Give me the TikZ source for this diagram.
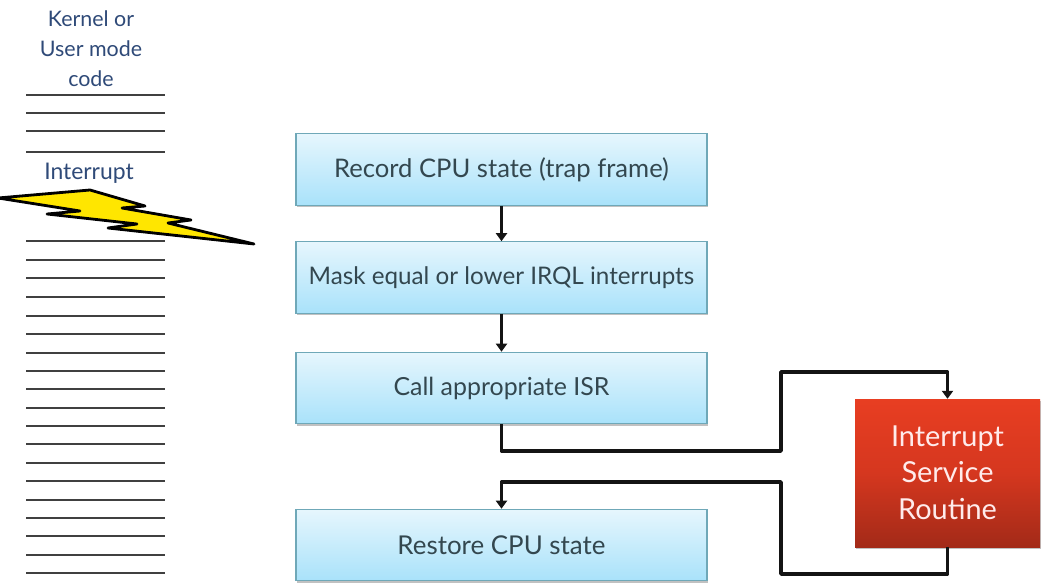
\documentclass[tikz,border=0pt]{standalone}
\usepackage{fontspec}
\setmainfont{Lato}
\usetikzlibrary{arrows.meta,shadows}
\definecolor{navytxt}{HTML}{2F4A78}
\definecolor{boxtxt}{HTML}{33474F}
\definecolor{boxedge}{HTML}{6FA8B8}
\definecolor{boxtop}{HTML}{E6F6FD}
\definecolor{boxbot}{HTML}{A9E2FA}
\definecolor{redtop}{HTML}{E83E22}
\definecolor{redmid}{HTML}{D5371F}
\definecolor{redbot}{HTML}{A32A18}
\definecolor{boltyel}{HTML}{FFE600}
\tikzset{
  x=1bp,y=-1bp,
  flowbox/.style={draw=boxedge,line width=1.1bp,top color=boxtop,bottom color=boxbot,
    minimum width=411bp,minimum height=71.5bp,inner sep=0pt,text=boxtxt,
    font=\fontsize{#1}{29}\selectfont,
    drop shadow={shadow xshift=1bp,shadow yshift=-2bp,opacity=.4,fill=black!60}},
  isrbox/.style={top color=redtop,bottom color=redbot,middle color=redmid,
    minimum width=185bp,minimum height=148bp,inner sep=0pt,text=white!92!red,align=center,
    font=\fontsize{29}{36.5}\selectfont,
    drop shadow={shadow xshift=1bp,shadow yshift=-2bp,opacity=.4,fill=black!60}},
  sidelabel/.style={text=navytxt,align=center,inner sep=0pt,
    font=\fontsize{21.5}{30}\selectfont},
  codeline/.style={line width=1.1bp,draw=black!75},
  connector/.style={line width=3.6bp,draw=black!92,line join=round,
    -{Triangle[length=8bp,width=11bp]}},
  boltshape/.style={draw=black,fill=boltyel,line width=2.8bp,line join=round}
}
\begin{document}
\begin{tikzpicture}
\useasboundingbox (0,0) rectangle (1050,585);
\fill[white] (0,0) rectangle (1050,585);

\node[sidelabel] (kernel) at (91,49) {Kernel or\\User mode\\code};
\foreach \y in {95,113,131,152,241,260,278,297,316,334,353,371,389,408,426,444,463,481,500,518,536,555,573}
  \draw[codeline] (26,\y) -- (165,\y);
\node[sidelabel,font=\fontsize{23}{30}\selectfont] (irq) at (89,173) {Interrupt};
\draw[boltshape] (-2,198) -- (90,190) -- (145,206) -- (122,208) -- (191,220) -- (168,223)
  -- (254,244) -- (108,228) -- (137,224) -- (47,214) -- (80,211) -- cycle;

\node[flowbox=25.7] (rec) at (501.5,169.5) {Record CPU state (trap frame)};
\node[flowbox=24.3] (mask) at (501.5,277.5) {Mask equal or lower IRQL interrupts};
\node[flowbox=25] (call) at (501.5,388) {Call appropriate ISR};
\node[flowbox=26] (rest) at (501.5,545) {Restore CPU state};
\node[isrbox] (isr) at (947.5,473) {\raisebox{1bp}{Interrupt}\\\raisebox{1bp}{Service}\\\raisebox{1bp}{Routine}};

\coordinate (a1) at (781,451);
\coordinate (a2) at (781,372);
\coordinate (b1) at (781,574);
\coordinate (b2) at (781,482);

\draw[connector] (rec.south) -- (mask.north);
\draw[connector] (mask.south) -- (call.north);
\draw[connector] (call.south) |- (a1) -- (a2) -| (isr.north);
\draw[connector] (isr.south) |- (b1) -- (b2) -| (rest.north);
\end{tikzpicture}
\end{document}
